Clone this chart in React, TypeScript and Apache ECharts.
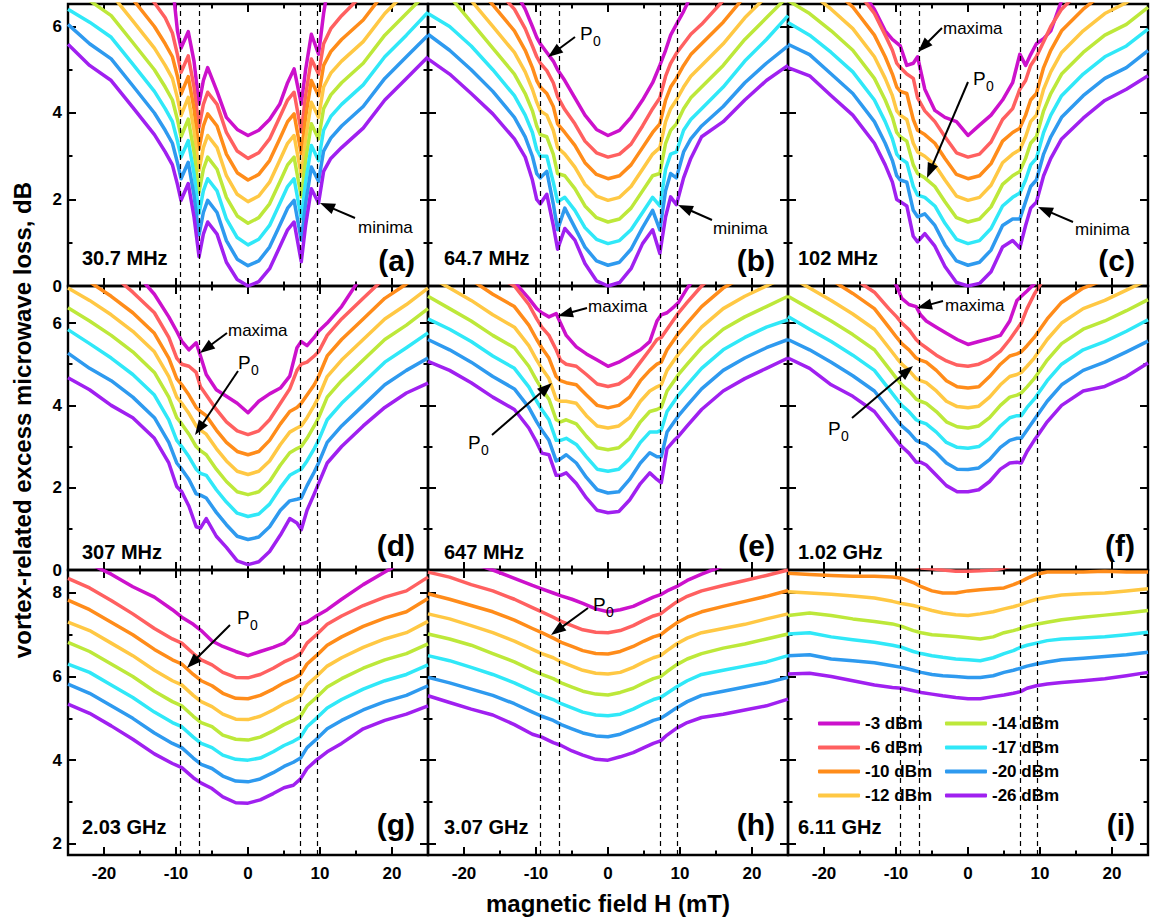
import React, { useEffect, useRef } from 'react';
import * as echarts from 'echarts';

// ---------- labels ----------
const powers = ['-3 dBm', '-6 dBm', '-10 dBm', '-12 dBm', '-14 dBm', '-17 dBm', '-20 dBm', '-26 dBm'];
const colors = ['#CC11CC', '#FF6060', '#FF8C1A', '#FFC844', '#BDE83A', '#30E8F8', '#2E9AEF', '#A020F0'];
const freqLabels = ['30.7 MHz', '64.7 MHz', '102 MHz', '307 MHz', '647 MHz', '1.02 GHz', '2.03 GHz', '3.07 GHz', '6.11 GHz'];
const panelLetters = ['(a)', '(b)', '(c)', '(d)', '(e)', '(f)', '(g)', '(h)', '(i)'];
const xMajor = [-20, -10, 0, 10, 20];
const xMinor = [-15, -5, 5, 15];
const yMajorRows = [[0, 2, 4, 6], [0, 2, 4, 6], [2, 4, 6, 8]];
const yMinorRows = [[1, 3, 5], [1, 3, 5], [3, 5, 7]];
const yMinRows = [0, 0, 1.73];
const yMaxRows = [6.52, 6.9, 8.55];
const dashedFields = [-9.4, -6.8, 7.3, 9.6];

// ---------- data (field in mT; loss in dB; curves ordered as `powers`) ----------
const fieldA = [-25, -22, -19, -16, -13, -11.5, -10.5, -9.8, -9.3, -8.3, -7.5, -6.8, -6.2, -5.6, -4.3, -3, -1.5, 0, 1.5, 3, 4.4, 5.5, 6.4, 7.4, 8, 8.8, 9.8, 10.5, 11.5, 13, 16, 19, 22, 25];
const lossA = [
  [9.0, 8.6, 8.25, 7.8, 7.5, 7.4, 7.0, 5.9, 5.5, 5.88, 5.2, 4.21, 4.75, 5.05, 4.5, 3.9, 3.62, 3.48, 3.6, 3.85, 4.2, 4.7, 5.02, 4.21, 5.0, 5.82, 5.36, 6.3, 7.3, 7.6, 8.0, 8.5, 9.0, 9.5],
  [8.6, 8.1, 7.7, 7.1, 6.55, 6.2, 5.85, 5.35, 4.94, 5.32, 4.6, 3.67, 4.2, 4.48, 4.2, 3.55, 3.12, 2.95, 3.08, 3.4, 3.9, 4.3, 4.48, 3.56, 4.4, 5.25, 4.9, 5.6, 5.95, 6.25, 6.75, 7.3, 7.8, 8.3],
  [8.1, 7.6, 7.25, 6.63, 6.0, 5.6, 5.3, 4.85, 4.44, 4.84, 4.1, 3.17, 3.7, 3.98, 3.7, 3.05, 2.62, 2.45, 2.58, 2.9, 3.4, 3.8, 3.98, 3.06, 3.9, 4.75, 4.4, 5.1, 5.42, 5.7, 6.15, 6.8, 7.3, 7.8],
  [7.6, 7.1, 6.75, 6.13, 5.5, 5.1, 4.8, 4.35, 3.94, 4.36, 3.6, 2.67, 3.2, 3.48, 3.2, 2.55, 2.12, 1.95, 2.08, 2.4, 2.9, 3.3, 3.48, 2.56, 3.4, 4.25, 3.9, 4.6, 4.92, 5.2, 5.65, 6.3, 6.8, 7.3],
  [7.1, 6.6, 6.25, 5.63, 5.0, 4.6, 4.3, 3.85, 3.45, 3.86, 3.1, 2.17, 2.7, 2.98, 2.7, 2.05, 1.62, 1.45, 1.58, 1.9, 2.4, 2.8, 2.98, 2.06, 2.9, 3.75, 3.4, 4.1, 4.42, 4.7, 5.15, 5.8, 6.3, 6.8],
  [6.4, 6.1, 5.75, 5.13, 4.5, 4.1, 3.8, 3.35, 2.98, 3.36, 2.6, 1.67, 2.2, 2.48, 2.2, 1.55, 1.12, 0.95, 1.08, 1.4, 1.9, 2.3, 2.48, 1.56, 2.4, 3.25, 2.9, 3.6, 3.92, 4.2, 4.65, 5.3, 5.8, 6.33],
  [6.05, 5.6, 5.25, 4.63, 4.0, 3.6, 3.3, 2.85, 2.48, 2.86, 2.1, 1.18, 1.7, 1.98, 1.7, 1.05, 0.62, 0.47, 0.58, 0.9, 1.4, 1.8, 1.98, 1.06, 1.9, 2.75, 2.42, 3.12, 3.42, 3.7, 4.15, 4.8, 5.3, 5.8],
  [5.59, 5.1, 4.75, 4.13, 3.5, 3.1, 2.8, 2.35, 1.98, 2.37, 1.6, 0.68, 1.2, 1.48, 1.2, 0.55, 0.15, 0.0, 0.1, 0.4, 0.9, 1.3, 1.48, 0.56, 1.4, 2.25, 1.92, 2.65, 2.95, 3.2, 3.65, 4.3, 4.8, 5.3],
];

const fieldB = [-25, -22, -19, -16, -13, -11.5, -10.5, -9.9, -9.4, -8.5, -7.6, -7.0, -6.0, -4.6, -3.2, -1.6, 0, 1.6, 3.2, 4.8, 6.2, 7.2, 8, 8.7, 9.5, 10.5, 11.5, 13, 16, 19, 22, 25];
const lossB = [
  [9.5, 8.8, 8.0, 7.4, 6.85, 6.4, 6.0, 5.75, 5.6, 5.4, 5.2, 5.0, 4.75, 4.35, 3.95, 3.62, 3.48, 3.6, 3.9, 4.3, 4.7, 5.1, 5.45, 5.8, 6.05, 6.35, 6.7, 7.2, 7.9, 8.5, 9.1, 9.6],
  [9.0, 8.3, 7.6, 6.95, 6.4, 5.95, 5.55, 5.3, 5.15, 4.98, 4.7, 4.38, 4.08, 3.75, 3.35, 3.08, 2.98, 3.05, 3.28, 3.7, 4.1, 4.35, 4.85, 5.15, 5.38, 5.6, 5.82, 6.05, 6.6, 7.2, 7.7, 8.2],
  [8.3, 7.7, 7.1, 6.5, 5.9, 5.45, 5.05, 4.75, 4.6, 4.45, 4.15, 3.75, 3.55, 3.25, 2.85, 2.58, 2.48, 2.55, 2.8, 3.2, 3.55, 3.75, 4.3, 4.6, 4.8, 5.1, 5.35, 5.6, 6.1, 6.7, 7.2, 7.7],
  [7.8, 7.2, 6.6, 6.0, 5.4, 4.95, 4.55, 4.25, 4.05, 3.95, 3.6, 3.2, 3.05, 2.75, 2.35, 2.08, 1.98, 2.05, 2.3, 2.7, 3.05, 3.2, 3.8, 4.1, 4.3, 4.6, 4.85, 5.1, 5.6, 6.2, 6.7, 7.2],
  [7.2, 6.7, 6.1, 5.5, 4.9, 4.45, 4.05, 3.7, 3.5, 3.45, 3.05, 2.6, 2.55, 2.25, 1.85, 1.58, 1.48, 1.55, 1.8, 2.2, 2.55, 2.6, 3.3, 3.6, 3.75, 4.1, 4.35, 4.6, 5.1, 5.7, 6.2, 6.7],
  [6.3, 6.0, 5.55, 5.0, 4.4, 3.95, 3.55, 3.15, 3.0, 3.0, 2.4, 1.95, 2.05, 1.75, 1.35, 1.08, 0.98, 1.05, 1.3, 1.7, 2.05, 1.85, 2.7, 3.05, 3.1, 3.6, 3.85, 4.1, 4.6, 5.2, 5.7, 6.25],
  [5.82, 5.45, 5.0, 4.5, 3.9, 3.45, 3.0, 2.6, 2.5, 2.65, 1.9, 1.3, 1.8, 1.35, 0.9, 0.58, 0.48, 0.55, 0.85, 1.35, 1.75, 1.3, 2.2, 2.6, 2.5, 3.1, 3.4, 3.7, 4.15, 4.7, 5.15, 5.55],
  [5.25, 4.9, 4.45, 3.98, 3.4, 2.98, 2.45, 2.0, 1.9, 2.12, 1.4, 0.85, 1.33, 1.06, 0.52, 0.12, 0, 0.08, 0.4, 0.98, 1.3, 0.75, 1.6, 2.06, 1.88, 2.5, 2.95, 3.45, 3.8, 4.3, 4.75, 5.1],
];

const fieldC = [-25, -22, -19, -16, -13, -11.5, -10.5, -9.9, -9.4, -8.5, -7.6, -7.0, -6.0, -4.6, -3.2, -1.6, 0, 1.6, 3.2, 4.8, 6.2, 7.2, 8, 8.7, 9.5, 10.5, 11.5, 13, 16, 19, 22, 25];
const lossC = [
  [8.8, 8.2, 7.6, 7.1, 6.4, 5.9, 5.7, 5.62, 5.55, 5.1, 5.15, 5.3, 4.55, 4.06, 3.9, 3.8, 3.48, 3.72, 3.95, 4.3, 4.7, 5.36, 5.1, 5.35, 5.6, 5.72, 5.9, 6.6, 7.2, 7.8, 8.3, 8.8],
  [8.1, 7.8, 7.4, 6.95, 6.3, 5.8, 5.45, 5.15, 5.05, 4.9, 4.8, 4.35, 4.05, 3.8, 3.45, 3.08, 2.98, 3.05, 3.33, 3.85, 4.1, 4.55, 4.75, 5.1, 5.3, 5.65, 6.0, 6.4, 6.9, 7.3, 7.55, 7.95],
  [7.6, 7.3, 6.9, 6.45, 5.8, 5.3, 4.9, 4.6, 4.5, 4.45, 3.85, 3.6, 3.5, 3.3, 2.95, 2.58, 2.48, 2.55, 2.83, 3.35, 3.55, 3.65, 3.95, 4.3, 4.45, 5.05, 5.45, 5.9, 6.4, 6.8, 7.05, 7.45],
  [7.1, 6.8, 6.4, 5.95, 5.3, 4.8, 4.4, 4.05, 3.95, 3.85, 3.3, 3.1, 3.0, 2.8, 2.45, 2.08, 1.98, 2.05, 2.33, 2.85, 3.05, 3.15, 3.45, 3.8, 3.95, 4.55, 4.95, 5.4, 5.9, 6.3, 6.55, 6.95],
  [6.6, 6.3, 5.9, 5.45, 4.8, 4.3, 3.9, 3.55, 3.45, 3.35, 2.8, 2.6, 2.5, 2.3, 1.95, 1.58, 1.48, 1.55, 1.83, 2.35, 2.55, 2.65, 2.95, 3.3, 3.45, 4.05, 4.45, 4.9, 5.4, 5.8, 6.05, 6.44],
  [6.09, 5.8, 5.4, 4.95, 4.3, 3.8, 3.4, 3.05, 2.95, 2.85, 2.3, 2.1, 2.05, 1.85, 1.45, 1.08, 0.98, 1.05, 1.33, 1.85, 2.05, 2.15, 2.45, 2.8, 2.95, 3.55, 3.95, 4.4, 4.9, 5.3, 5.55, 5.94],
  [5.59, 5.35, 4.9, 4.45, 3.8, 3.3, 2.9, 2.55, 2.45, 2.4, 1.75, 1.6, 1.67, 1.4, 0.95, 0.58, 0.48, 0.55, 0.83, 1.4, 1.55, 1.55, 1.95, 2.3, 2.45, 3.05, 3.45, 3.9, 4.4, 4.8, 5.05, 5.44],
  [5.05, 4.86, 4.4, 3.95, 3.3, 2.8, 2.4, 2.0, 1.95, 1.85, 1.15, 1.02, 1.21, 0.92, 0.45, 0.08, 0, 0.06, 0.33, 0.9, 1.05, 0.88, 1.4, 1.8, 1.94, 2.55, 2.95, 3.4, 3.88, 4.29, 4.55, 4.86],
];

const fieldD = [-25, -22, -19, -16, -13, -11, -9.9, -9.2, -8.2, -7.2, -6.6, -5.8, -4.4, -3, -1.5, 0, 1.5, 3, 4.5, 5.8, 6.8, 7.4, 8.2, 9.2, 9.8, 11, 13, 16, 19, 22, 25];
const lossD = [
  [9.0, 8.5, 7.9, 7.3, 6.7, 6.15, 5.8, 5.56, 5.35, 5.52, 5.2, 4.75, 4.38, 4.22, 4.05, 3.82, 4.1, 4.28, 4.42, 4.71, 5.4, 5.55, 5.45, 5.65, 5.8, 6.0, 6.4, 7.2, 7.8, 8.3, 8.8],
  [8.0, 7.6, 7.2, 6.75, 6.25, 5.65, 5.15, 5.0, 4.95, 4.8, 4.45, 4.25, 3.9, 3.6, 3.38, 3.29, 3.38, 3.65, 4.05, 4.4, 4.85, 5.0, 5.05, 5.2, 5.3, 5.7, 6.1, 6.6, 7.1, 7.45, 7.85],
  [7.4, 7.0, 6.65, 6.25, 5.75, 5.15, 4.65, 4.5, 4.25, 3.95, 3.85, 3.75, 3.4, 3.1, 2.88, 2.8, 2.88, 3.15, 3.55, 3.85, 3.95, 4.05, 4.25, 4.5, 4.7, 5.2, 5.6, 6.1, 6.6, 6.95, 7.35],
  [6.85, 6.55, 6.2, 5.8, 5.3, 4.7, 4.2, 4.05, 3.8, 3.5, 3.4, 3.3, 2.95, 2.65, 2.4, 2.32, 2.4, 2.65, 3.05, 3.35, 3.45, 3.5, 3.7, 4.0, 4.2, 4.7, 5.1, 5.6, 6.1, 6.45, 6.85],
  [6.37, 6.05, 5.7, 5.3, 4.8, 4.2, 3.7, 3.55, 3.3, 3.0, 2.9, 2.8, 2.45, 2.15, 1.9, 1.83, 1.9, 2.15, 2.55, 2.85, 2.95, 3.0, 3.2, 3.5, 3.7, 4.2, 4.6, 5.1, 5.6, 5.95, 6.35],
  [5.84, 5.5, 5.15, 4.75, 4.25, 3.65, 3.15, 3.0, 2.75, 2.45, 2.35, 2.3, 1.95, 1.65, 1.38, 1.3, 1.36, 1.6, 2.0, 2.3, 2.4, 2.45, 2.65, 2.95, 3.15, 3.65, 4.05, 4.55, 5.05, 5.4, 5.76],
  [5.27, 4.9, 4.6, 4.2, 3.7, 3.1, 2.6, 2.45, 2.2, 1.85, 1.82, 1.75, 1.4, 1.1, 0.82, 0.74, 0.8, 1.05, 1.45, 1.68, 1.72, 1.75, 2.05, 2.38, 2.6, 3.1, 3.5, 4.0, 4.5, 4.85, 5.15],
  [4.67, 4.38, 4.0, 3.7, 3.2, 2.6, 2.03, 1.9, 1.55, 1.05, 1.02, 1.25, 0.82, 0.55, 0.22, 0.13, 0.2, 0.45, 0.85, 1.25, 1.14, 0.98, 1.45, 1.85, 2.1, 2.6, 3.0, 3.5, 3.95, 4.3, 4.54],
];

const fieldE = [-25, -22, -19, -16, -13, -11, -9.9, -9.2, -8.2, -7.2, -6.6, -5.8, -4.4, -3, -1.5, 0, 1.5, 3, 4.5, 5.8, 6.8, 7.4, 8.2, 9.2, 9.8, 11, 13, 16, 19, 22, 25];
const lossE = [
  [9.0, 8.6, 8.2, 7.7, 7.0, 6.6, 6.35, 6.25, 6.15, 6.23, 6.0, 5.7, 5.42, 5.25, 5.1, 4.95, 5.05, 5.2, 5.35, 5.55, 6.05, 6.2, 6.25, 6.4, 6.5, 6.85, 7.3, 7.9, 8.3, 8.6, 8.9],
  [8.15, 7.85, 7.55, 7.2, 6.9, 6.45, 6.1, 5.9, 5.7, 5.35, 5.1, 5.0, 4.95, 4.75, 4.52, 4.46, 4.52, 4.7, 5.05, 5.35, 5.6, 5.65, 5.85, 6.1, 6.25, 6.5, 6.9, 7.35, 7.65, 7.9, 8.15],
  [7.65, 7.35, 7.05, 6.7, 6.4, 5.95, 5.6, 5.4, 5.15, 4.7, 4.6, 4.55, 4.5, 4.25, 4.0, 3.94, 4.0, 4.2, 4.6, 4.85, 5.0, 5.05, 5.35, 5.6, 5.75, 6.0, 6.4, 6.85, 7.15, 7.4, 7.65],
  [7.15, 6.85, 6.55, 6.2, 5.9, 5.45, 5.1, 4.9, 4.65, 4.15, 4.1, 4.1, 4.05, 3.75, 3.5, 3.45, 3.5, 3.7, 4.1, 4.35, 4.45, 4.5, 4.85, 5.1, 5.25, 5.5, 5.9, 6.35, 6.65, 6.9, 7.15],
  [6.65, 6.35, 6.05, 5.7, 5.4, 4.95, 4.6, 4.4, 4.15, 3.65, 3.6, 3.65, 3.55, 3.25, 2.97, 2.92, 2.97, 3.2, 3.6, 3.85, 3.9, 3.95, 4.35, 4.6, 4.75, 5.0, 5.4, 5.85, 6.15, 6.4, 6.65],
  [6.1, 5.85, 5.55, 5.2, 4.9, 4.45, 4.1, 3.9, 3.65, 3.15, 3.15, 3.2, 3.05, 2.75, 2.45, 2.4, 2.45, 2.7, 3.1, 3.35, 3.35, 3.4, 3.85, 4.1, 4.25, 4.5, 4.9, 5.35, 5.65, 5.9, 6.08],
  [5.6, 5.35, 5.05, 4.7, 4.4, 3.95, 3.6, 3.4, 3.15, 2.65, 2.7, 2.8, 2.6, 2.25, 1.95, 1.87, 1.9, 2.2, 2.6, 2.85, 2.75, 2.75, 3.35, 3.6, 3.75, 4.0, 4.4, 4.85, 5.15, 5.4, 5.6],
  [5.07, 4.85, 4.55, 4.2, 3.9, 3.45, 3.1, 2.84, 2.8, 2.3, 2.3, 2.36, 2.1, 1.75, 1.45, 1.39, 1.42, 1.7, 2.1, 2.36, 2.2, 2.12, 2.95, 3.15, 3.25, 3.5, 3.9, 4.35, 4.65, 4.9, 5.15],
];

const fieldF = [-25, -22, -19, -16, -13, -11, -9.9, -9.2, -8.2, -7.2, -6.6, -5.8, -4.4, -3, -1.5, 0, 1.5, 3, 4.5, 5.8, 6.8, 7.4, 8.2, 9.2, 9.8, 11, 13, 16, 19, 22, 25];
const lossF = [
  [10.0, 9.5, 9.0, 8.4, 7.8, 7.2, 6.9, 6.6, 6.45, 6.4, 6.2, 6.05, 5.9, 5.75, 5.6, 5.48, 5.55, 5.62, 5.7, 6.05, 6.55, 6.65, 6.78, 6.95, 7.1, 7.5, 8.0, 8.6, 9.0, 9.4, 9.8],
  [8.8, 8.2, 7.6, 7.1, 6.75, 6.35, 6.15, 6.0, 5.84, 5.6, 5.5, 5.4, 5.22, 5.08, 4.98, 4.95, 5.0, 5.12, 5.32, 5.6, 5.85, 6.0, 6.35, 6.7, 6.87, 7.2, 7.6, 8.0, 8.4, 8.8, 9.2],
  [7.65, 7.35, 7.05, 6.72, 6.35, 5.9, 5.65, 5.5, 5.35, 5.15, 5.1, 5.05, 4.85, 4.6, 4.45, 4.42, 4.45, 4.7, 5.0, 5.2, 5.25, 5.3, 5.45, 5.65, 5.8, 6.1, 6.5, 6.85, 7.05, 7.3, 7.55],
  [7.15, 6.85, 6.55, 6.22, 5.85, 5.4, 5.15, 5.0, 4.85, 4.65, 4.6, 4.55, 4.35, 4.1, 3.97, 3.94, 3.98, 4.2, 4.5, 4.7, 4.75, 4.8, 4.95, 5.15, 5.3, 5.6, 6.0, 6.35, 6.55, 6.8, 7.05],
  [6.65, 6.35, 6.05, 5.72, 5.35, 4.9, 4.65, 4.5, 4.35, 4.15, 4.1, 4.05, 3.85, 3.6, 3.48, 3.45, 3.5, 3.7, 4.0, 4.2, 4.25, 4.3, 4.45, 4.65, 4.8, 5.1, 5.5, 5.85, 6.05, 6.3, 6.57],
  [6.16, 5.85, 5.55, 5.22, 4.85, 4.4, 4.15, 4.0, 3.85, 3.65, 3.6, 3.55, 3.35, 3.1, 2.98, 2.96, 3.0, 3.2, 3.5, 3.7, 3.75, 3.75, 3.95, 4.15, 4.3, 4.6, 5.0, 5.35, 5.55, 5.8, 6.08],
  [5.6, 5.35, 5.05, 4.72, 4.35, 3.9, 3.65, 3.5, 3.35, 3.15, 3.1, 3.05, 2.85, 2.6, 2.45, 2.44, 2.48, 2.68, 2.98, 3.15, 3.2, 3.2, 3.4, 3.65, 3.8, 4.1, 4.5, 4.85, 5.05, 5.3, 5.56],
  [5.15, 4.9, 4.5, 4.22, 3.85, 3.4, 3.15, 3.0, 2.84, 2.62, 2.62, 2.55, 2.3, 2.05, 1.9, 1.9, 1.95, 2.15, 2.45, 2.6, 2.62, 2.6, 2.88, 3.15, 3.3, 3.6, 4.0, 4.35, 4.46, 4.7, 5.03],
];

const fieldG = [-25, -22, -19, -16, -13, -10.5, -9.2, -7.6, -6.5, -5, -3.5, -1.7, 0, 1.7, 3.5, 5, 6.3, 7.3, 8.2, 9.5, 11, 13, 16, 19, 22, 25];
const lossG = [
  [8.95, 8.7, 8.45, 8.15, 7.9, 7.6, 7.42, 7.25, 7.1, 6.85, 6.72, 6.6, 6.5, 6.6, 6.7, 6.8, 7.0, 7.25, 7.3, 7.45, 7.6, 7.85, 8.2, 8.5, 8.8, 9.1],
  [8.35, 8.12, 7.82, 7.5, 7.15, 6.9, 6.8, 6.55, 6.4, 6.28, 6.1, 5.98, 5.97, 6.05, 6.2, 6.35, 6.45, 6.55, 6.8, 7.0, 7.25, 7.45, 7.7, 7.9, 8.05, 8.38],
  [7.83, 7.6, 7.3, 7.0, 6.65, 6.4, 6.3, 6.05, 5.9, 5.78, 5.6, 5.48, 5.47, 5.55, 5.7, 5.85, 5.95, 6.05, 6.3, 6.5, 6.75, 6.95, 7.2, 7.4, 7.55, 7.87],
  [7.3, 7.1, 6.8, 6.5, 6.15, 5.9, 5.8, 5.55, 5.4, 5.28, 5.1, 4.98, 4.97, 5.05, 5.2, 5.35, 5.45, 5.55, 5.8, 6.0, 6.25, 6.45, 6.7, 6.9, 7.05, 7.32],
  [6.82, 6.6, 6.3, 6.0, 5.65, 5.4, 5.3, 5.05, 4.9, 4.8, 4.6, 4.5, 4.48, 4.55, 4.7, 4.85, 4.95, 5.05, 5.3, 5.5, 5.75, 5.95, 6.2, 6.4, 6.55, 6.78],
  [6.3, 6.1, 5.8, 5.5, 5.15, 4.9, 4.8, 4.55, 4.4, 4.3, 4.12, 4.02, 4.0, 4.05, 4.2, 4.35, 4.45, 4.55, 4.8, 5.0, 5.25, 5.45, 5.7, 5.9, 6.05, 6.28],
  [5.82, 5.6, 5.3, 5.0, 4.65, 4.4, 4.3, 4.05, 3.9, 3.8, 3.62, 3.5, 3.48, 3.55, 3.7, 3.85, 3.95, 4.05, 4.3, 4.5, 4.75, 4.95, 5.2, 5.4, 5.55, 5.78],
  [5.34, 5.12, 4.82, 4.5, 4.15, 3.92, 3.82, 3.58, 3.45, 3.32, 3.12, 2.98, 2.97, 3.05, 3.2, 3.34, 3.4, 3.55, 3.8, 4.0, 4.2, 4.4, 4.75, 4.95, 5.1, 5.3],
];

const fieldH = [-25, -22, -19, -16, -13, -10.5, -9.2, -7.6, -6.5, -5, -3.5, -1.7, 0, 1.7, 3.5, 5, 6.3, 7.3, 8.2, 9.5, 11, 13, 16, 19, 22, 25];
const lossH = [
  [9.1, 8.9, 8.72, 8.55, 8.35, 8.18, 8.1, 8.0, 7.93, 7.85, 7.75, 7.62, 7.55, 7.6, 7.68, 7.8, 7.9, 7.96, 8.05, 8.15, 8.3, 8.45, 8.65, 8.85, 9.0, 9.2],
  [8.5, 8.38, 8.2, 8.05, 7.85, 7.65, 7.55, 7.42, 7.32, 7.22, 7.12, 7.06, 7.05, 7.1, 7.22, 7.35, 7.45, 7.5, 7.62, 7.78, 7.92, 8.05, 8.18, 8.3, 8.42, 8.55],
  [7.98, 7.85, 7.7, 7.55, 7.35, 7.15, 7.05, 6.92, 6.82, 6.72, 6.62, 6.55, 6.54, 6.6, 6.72, 6.85, 6.95, 7.0, 7.12, 7.28, 7.42, 7.55, 7.68, 7.8, 7.92, 8.06],
  [7.5, 7.38, 7.22, 7.05, 6.85, 6.65, 6.55, 6.45, 6.35, 6.25, 6.15, 6.08, 6.06, 6.1, 6.22, 6.35, 6.45, 6.5, 6.62, 6.78, 6.92, 7.05, 7.15, 7.25, 7.38, 7.5],
  [7.02, 6.9, 6.75, 6.55, 6.35, 6.15, 6.05, 5.95, 5.85, 5.75, 5.65, 5.58, 5.56, 5.62, 5.72, 5.85, 5.95, 6.0, 6.12, 6.28, 6.42, 6.55, 6.68, 6.78, 6.9, 7.02],
  [6.5, 6.38, 6.22, 6.05, 5.85, 5.65, 5.55, 5.45, 5.35, 5.25, 5.15, 5.08, 5.06, 5.1, 5.22, 5.35, 5.45, 5.5, 5.6, 5.75, 5.9, 6.05, 6.15, 6.25, 6.35, 6.5],
  [5.98, 5.85, 5.7, 5.55, 5.35, 5.15, 5.05, 4.95, 4.85, 4.75, 4.65, 4.58, 4.56, 4.62, 4.75, 4.85, 4.95, 5.0, 5.1, 5.25, 5.4, 5.55, 5.65, 5.75, 5.85, 5.98],
  [5.54, 5.38, 5.22, 5.08, 4.85, 4.62, 4.55, 4.42, 4.35, 4.22, 4.12, 4.02, 4.0, 4.08, 4.18, 4.3, 4.4, 4.46, 4.6, 4.76, 4.9, 5.02, 5.1, 5.2, 5.3, 5.46],
];

const fieldI = [-25, -22, -19, -16, -13, -10.5, -9.2, -7.6, -6.5, -5, -3.5, -1.7, 0, 1.7, 3.5, 5, 6.3, 7.3, 8.2, 9.5, 11, 13, 16, 19, 22, 25];
const lossI = [
  [9.4, 9.38, 9.35, 9.3, 9.25, 9.2, 9.18, 9.15, 9.12, 9.1, 9.08, 9.05, 9.05, 9.05, 9.08, 9.1, 9.12, 9.15, 9.18, 9.2, 9.25, 9.3, 9.33, 9.36, 9.38, 9.4],
  [9.0, 8.95, 8.9, 8.85, 8.8, 8.75, 8.7, 8.65, 8.6, 8.58, 8.55, 8.52, 8.52, 8.53, 8.55, 8.6, 8.65, 8.7, 8.75, 8.8, 8.85, 8.9, 8.95, 9.0, 9.05, 9.1],
  [8.47, 8.44, 8.42, 8.4, 8.4, 8.38, 8.35, 8.25, 8.15, 8.05, 8.0, 8.0, 8.05, 8.08, 8.1, 8.12, 8.2, 8.27, 8.35, 8.45, 8.5, 8.5, 8.5, 8.52, 8.5, 8.5],
  [8.03, 8.0, 7.97, 7.93, 7.88, 7.8, 7.75, 7.7, 7.65, 7.58, 7.52, 7.48, 7.46, 7.5, 7.55, 7.62, 7.67, 7.72, 7.78, 7.85, 7.9, 7.95, 7.98, 8.0, 8.05, 8.1],
  [7.46, 7.52, 7.46, 7.38, 7.32, 7.26, 7.2, 7.1, 7.05, 7.0, 6.98, 6.96, 6.93, 6.9, 6.95, 7.05, 7.1, 7.15, 7.2, 7.25, 7.3, 7.36, 7.42, 7.47, 7.52, 7.58],
  [7.02, 7.05, 6.95, 6.88, 6.82, 6.75, 6.7, 6.6, 6.55, 6.5, 6.46, 6.42, 6.4, 6.38, 6.45, 6.55, 6.62, 6.7, 6.75, 6.8, 6.86, 6.9, 6.92, 6.95, 7.0, 7.06],
  [6.5, 6.52, 6.42, 6.38, 6.33, 6.26, 6.22, 6.15, 6.1, 6.05, 6.02, 6.0, 5.98, 5.98, 6.02, 6.1, 6.15, 6.2, 6.25, 6.3, 6.35, 6.4, 6.44, 6.48, 6.52, 6.58],
  [6.06, 6.08, 6.0, 5.9, 5.8, 5.74, 5.72, 5.66, 5.62, 5.58, 5.54, 5.5, 5.47, 5.47, 5.52, 5.56, 5.6, 5.64, 5.72, 5.78, 5.82, 5.86, 5.9, 5.95, 6.02, 6.1],
];

const panelFields = [fieldA, fieldB, fieldC, fieldD, fieldE, fieldF, fieldG, fieldH, fieldI];
const panelLosses = [lossA, lossB, lossC, lossD, lossE, lossF, lossG, lossH, lossI];

// ---------- layout (pixels) ----------
const FONT = '"Liberation Sans", Arial, Helvetica, sans-serif';
const colLeft = [68, 428, 788];
const rowTop = [4, 286, 570];
const rowH = [282, 284, 285];
const PW = 360;
const freqOffsetX = [14, 16, 10];
const freqOffsetY = [28, 18, 28];
const letterOffsetY = [26, 25, 31];

// annotations: [text, left x, center y]
const annoTexts: [string, number, number][] = [
  ['minima', 358, 227], ['minima', 713, 228], ['minima', 1075, 229],
  ['maxima', 943, 28], ['maxima', 228, 330], ['maxima', 588, 306], ['maxima', 945, 305],
];
const p0Labels: [number, number][] = [[580, 33], [973, 78], [238, 362], [468, 442], [828, 428], [237, 617], [593, 604]];
const arrows: [number, number, number, number][] = [
  [355, 218, 320, 203], [575, 37, 548, 57], [712, 220, 678, 205],
  [942, 28, 918, 52], [968, 82, 927, 178], [1073, 222, 1038, 207],
  [227, 333, 200, 353], [238, 371, 195, 435], [587, 308, 558, 316],
  [492, 435, 552, 383], [943, 301, 917, 308], [852, 418, 913, 366],
  [230, 625, 187, 668], [588, 608, 551, 635],
];

function arrowEls(x1: number, y1: number, x2: number, y2: number) {
  const dx = x2 - x1, dy = y2 - y1;
  const len = Math.hypot(dx, dy);
  const ux = dx / len, uy = dy / len;
  const hl = 15, hw = 5.5;
  const bx = x2 - ux * hl, by = y2 - uy * hl;
  return [
    { type: 'line', z: 100, shape: { x1, y1, x2: bx + ux * 2, y2: by + uy * 2 }, style: { stroke: '#000', lineWidth: 2 } },
    { type: 'polygon', z: 100, shape: { points: [[x2, y2], [bx - uy * hw, by + ux * hw], [bx + uy * hw, by - ux * hw]] }, style: { fill: '#000' } },
  ];
}

function textEl(text: string, x: number, y: number, size: number, weight: string, align: string, extra: any = {}) {
  return {
    type: 'text', z: 100, x, y, ...extra,
    style: {
      text, fill: '#000', fontSize: size, fontWeight: weight, fontFamily: FONT,
      align, verticalAlign: 'middle', textAlign: align, textVerticalAlign: 'middle',
    },
  };
}

function buildOption() {
  const grid: any[] = [];
  const xAxis: any[] = [];
  const yAxis: any[] = [];
  const series: any[] = [];
  const graphic: any[] = [];
  const tickLine = { color: '#000', width: 2 };
  const labelStyle = { color: '#000', fontSize: 17, fontWeight: 'bold', fontFamily: FONT };

  for (let p = 0; p < 9; p++) {
    const row = Math.floor(p / 3);
    const col = p % 3;
    grid.push({
      left: colLeft[col], top: rowTop[row], width: PW, height: rowH[row],
      show: true, borderColor: '#000', borderWidth: 2.4, backgroundColor: 'transparent',
    });
    for (const pos of ['bottom', 'top']) {
      for (const major of [true, false]) {
        xAxis.push({
          type: 'value', gridIndex: p, position: pos, offset: 0, min: -25, max: 25,
          axisLine: { show: false, onZero: false }, splitLine: { show: false },
          axisTick: { show: true, inside: true, length: major ? 8 : 4.5, customValues: major ? xMajor : xMinor, lineStyle: tickLine },
          axisLabel: {
            show: major && pos === 'bottom' && row === 2, customValues: xMajor, margin: 10, ...labelStyle,
          },
        });
      }
    }
    for (const pos of ['left', 'right']) {
      for (const major of [true, false]) {
        yAxis.push({
          type: 'value', gridIndex: p, position: pos, offset: 0, min: yMinRows[row], max: yMaxRows[row],
          axisLine: { show: false, onZero: false }, splitLine: { show: false },
          axisTick: { show: true, inside: true, length: major ? 8 : 4.5, customValues: major ? yMajorRows[row] : yMinorRows[row], lineStyle: tickLine },
          axisLabel: {
            show: major && pos === 'left' && col === 0, customValues: yMajorRows[row], margin: 6, ...labelStyle,
          },
        });
      }
    }
    const xs = panelFields[p];
    const curves = panelLosses[p];
    curves.forEach((ys, k) => {
      const s: any = {
        type: 'line', name: powers[k], xAxisIndex: 4 * p, yAxisIndex: 4 * p,
        data: xs.map((x, i) => [x, ys[i]]),
        symbol: 'none', clip: true, silent: true,
        lineStyle: { color: colors[k], width: 3.5, join: 'round' },
        itemStyle: { color: colors[k] },
        emphasis: { disabled: true },
      };
      if (k === curves.length - 1) {
        s.markLine = {
          silent: true, symbol: ['none', 'none'], label: { show: false },
          lineStyle: { color: '#000', width: 1.2, type: [5, 4] },
          emphasis: { disabled: true },
          data: dashedFields.map((v) => ({ xAxis: v })),
        };
      }
      series.push(s);
    });

    const bottom = rowTop[row] + rowH[row];
    graphic.push(textEl(freqLabels[p], colLeft[col] + freqOffsetX[col], bottom - freqOffsetY[row], 20, 'bold', 'left'));
    graphic.push(textEl(panelLetters[p], colLeft[col] + PW - 13, bottom - letterOffsetY[row], 30, 'bold', 'right'));
  }

  annoTexts.forEach(([t, x, y]) => graphic.push(textEl(t, x, y, 17, 'normal', 'left')));
  p0Labels.forEach(([x, y]) => {
    graphic.push(textEl('P', x, y, 19, 'normal', 'left'));
    graphic.push(textEl('0', x + 13, y + 8, 14, 'normal', 'left'));
  });
  arrows.forEach(([x1, y1, x2, y2]) => graphic.push(...arrowEls(x1, y1, x2, y2)));

  graphic.push(textEl('magnetic field H (mT)', 608, 903, 24, 'bold', 'center'));
  graphic.push(textEl('vortex-related excess microwave loss, dB', 22, 420, 24, 'bold', 'center', { rotation: Math.PI / 2 }));

  const legendBase = {
    orient: 'vertical', top: 715, itemWidth: 42, itemHeight: 4, itemGap: 7, icon: 'roundRect',
    padding: 0, selectedMode: false,
    itemStyle: { borderWidth: 0 },
    lineStyle: { width: 0 },
    textStyle: { fontSize: 17, fontWeight: 'bold', color: '#000', fontFamily: FONT, lineHeight: 16 },
  };

  return {
    animation: false,
    backgroundColor: '#fff',
    textStyle: { fontFamily: FONT },
    grid, xAxis, yAxis, series, graphic,
    legend: [
      { ...legendBase, left: 818, data: powers.slice(0, 4) },
      { ...legendBase, left: 945, data: powers.slice(4) },
    ],
  };
}

export default function App() {
  const ref = useRef<HTMLDivElement>(null);
  useEffect(() => {
    if (!ref.current) return;
    const chart = echarts.init(ref.current, undefined, { renderer: 'svg' });
    chart.setOption(buildOption() as any);
    return () => chart.dispose();
  }, []);
  return (
    <div
      ref={ref}
      style={{ position: 'absolute', left: 0, top: 0, width: 1160, height: 923, background: '#fff' }}
    />
  );
}
